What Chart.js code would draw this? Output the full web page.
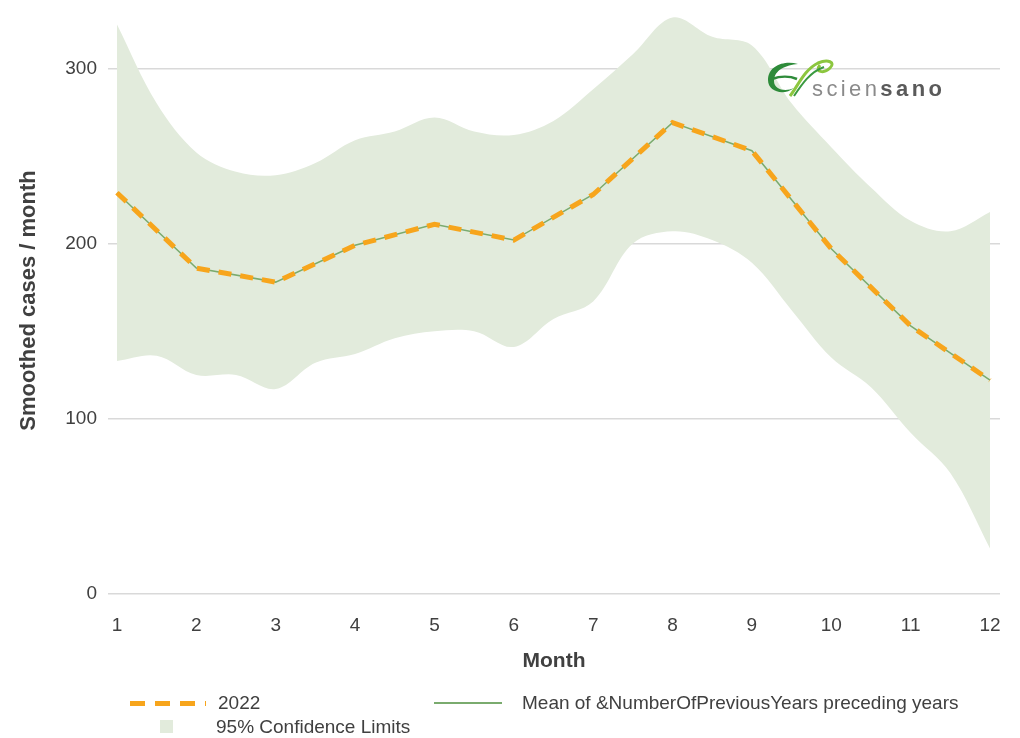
<!DOCTYPE html>
<html lang="en">
<head>
    <meta charset="UTF-8">
    <title>Smoothed cases / month</title>
    <script src="https://cdn.jsdelivr.net/npm/chart.js"></script>
    <style>
        body { margin: 0; background: #fff; font-family: "Liberation Sans", Arial, sans-serif; color: #404040; }
        .wrap { position: relative; width: 1020px; height: 738px; }
        .legenda { position: absolute; font-size: 19px; color: #404040; line-height: 22px; white-space: nowrap; }
        .traco { position: absolute; height: 5px; }
        .logo { position: absolute; left: 764px; top: 56px; width: 180px; height: 46px; }
        .logo span.txt { position: absolute; left: 48px; top: 20px; font-size: 22px; letter-spacing: 3.4px; color: #8a8a8a; }
        .logo b { color: #5a5a5a; font-weight: bold; }
    </style>
</head>
<body>
    <div class="wrap">
        <canvas id="myChart" width="1020" height="738"></canvas>

        <div class="logo">
            <svg width="80" height="46" viewBox="0 0 80 46">
                <path d="M34 8 C20 4 4 10 4 24 C4 36 20 40 30 32 C22 36 10 34 10 25 C10 14 22 9 34 8 Z" fill="#2e8b3a"/>
                <path d="M8 23 C16 20 26 20 33 23" stroke="#2e8b3a" stroke-width="2.5" fill="none"/>
                <path d="M26 40 C34 30 40 14 54 7 C64 3 72 6 66 12 C60 18 50 16 56 9" stroke="#8cc63f" stroke-width="3" fill="none"/>
                <path d="M30 40 C38 28 46 16 60 11" stroke="#3a9a40" stroke-width="2" fill="none"/>
            </svg>
            <span class="txt">scien<b>sano</b></span>
        </div>

        <div class="traco" style="left:130px; top:701px; width:76px;
            background: repeating-linear-gradient(90deg, #f7a51c 0 15px, transparent 15px 25px);"></div>
        <div class="legenda" style="left:218px; top:692px;">2022</div>
        <div style="position:absolute; left:160px; top:720px; width:13px; height:13px; background:#e2ebdc;"></div>
        <div class="legenda" style="left:216px; top:716px;">95% Confidence Limits</div>
        <div style="position:absolute; left:434px; top:702px; width:68px; height:2px; background:#7aab6e;"></div>
        <div class="legenda" style="left:522px; top:692px;">Mean of &amp;NumberOfPreviousYears preceding years</div>
    </div>

<script>
    // meses e valores
    var meses = [1, 2, 3, 4, 5, 6, 7, 8, 9, 10, 11, 12];
    var valores2022 = [229, 186, 178, 199, 211, 202, 228, 269, 253, 197, 153, 122];
    var mediaAnos = [229, 186, 178, 199, 211, 202, 228, 269, 253, 197, 153, 122];

    // limites de confianca (meio mes)
    var mesesBanda = [1, 1.5, 2, 2.5, 3, 3.5, 4, 4.5, 5, 5.5, 6, 6.5, 7, 7.5, 8, 8.5, 9, 9.5, 10, 10.5, 11, 11.5, 12];
    var limiteSuperior = [325, 280, 252, 241, 239, 246, 259, 264, 272, 264, 262, 270, 288, 308, 329, 318, 313, 280, 255, 232, 213, 207, 218];
    var limiteInferior = [133, 136, 125, 125, 117, 132, 137, 146, 150, 150, 141, 157, 167, 200, 207, 202, 189, 162, 135, 118, 92, 69, 26];

    var ticksY = [0, 100, 200, 300];

    function pontos(xs, ys) {
        var lista = [];
        for (var i = 0; i < xs.length; i++) {
            lista.push({ x: xs[i], y: ys[i] });
        }
        return lista;
    }

    var dados = {
        datasets: [
            {
                label: '2022',
                data: pontos(meses, valores2022),
                borderColor: '#f7a51c',
                borderWidth: 5,
                borderDash: [13, 9],
                pointRadius: 0,
                tension: 0,
                fill: false
            },
            {
                label: 'Mean of &NumberOfPreviousYears preceding years',
                data: pontos(meses, mediaAnos),
                borderColor: '#7aab6e',
                borderWidth: 1.5,
                pointRadius: 0,
                tension: 0,
                fill: false
            },
            {
                label: '95% Confidence Limits',
                data: pontos(mesesBanda, limiteSuperior),
                borderWidth: 0,
                borderColor: 'rgba(0,0,0,0)',
                backgroundColor: '#e2ebdc',
                pointRadius: 0,
                tension: 0.35,
                fill: '+1'
            },
            {
                label: 'lower',
                data: pontos(mesesBanda, limiteInferior),
                borderWidth: 0,
                borderColor: 'rgba(0,0,0,0)',
                pointRadius: 0,
                tension: 0.35,
                fill: false
            }
        ]
    };

    const config = {
        type: 'line',
        data: dados,
        options: {
            responsive: false,
            animation: false,
            layout: { padding: { left: 0, right: 20, top: 7, bottom: 64 } },
            plugins: {
                legend: { display: false },
                tooltip: { enabled: false }
            },
            scales: {
                x: {
                    type: 'linear',
                    min: 0.887,
                    max: 12.126,
                    afterBuildTicks: function (scale) {
                        scale.ticks = meses.map(function (m) { return { value: m }; });
                    },
                    afterFit: function (scale) {
                        scale.height = 80;
                        scale.paddingLeft = 0;
                        scale.paddingRight = 0;
                    },
                    grid: { display: false, drawTicks: false },
                    border: { display: false },
                    ticks: {
                        padding: 20,
                        color: '#404040',
                        font: { family: 'Liberation Sans', size: 19 },
                        maxRotation: 0
                    },
                    title: {
                        display: true,
                        text: 'Month',
                        color: '#404040',
                        font: { family: 'Liberation Sans', size: 21, weight: 'bold' },
                        padding: { top: 0, bottom: 0 }
                    }
                },
                y: {
                    min: 0,
                    max: 335,
                    afterBuildTicks: function (scale) {
                        scale.ticks = ticksY.map(function (v) { return { value: v }; });
                    },
                    afterFit: function (scale) {
                        scale.width = 108;
                        scale.paddingTop = 0;
                        scale.paddingBottom = 0;
                    },
                    grid: { color: '#d9d9d9', lineWidth: 1.5, drawTicks: false },
                    border: { display: false },
                    ticks: {
                        padding: 11,
                        color: '#404040',
                        font: { family: 'Liberation Sans', size: 19 }
                    },
                    title: {
                        display: true,
                        text: 'Smoothed cases / month',
                        color: '#404040',
                        font: { family: 'Liberation Sans', size: 22, weight: 'bold' },
                        padding: { top: 16, bottom: 0 }
                    }
                }
            }
        }
    };

    let myChart = new Chart(document.getElementById('myChart'), config);
</script>
</body>
</html>
